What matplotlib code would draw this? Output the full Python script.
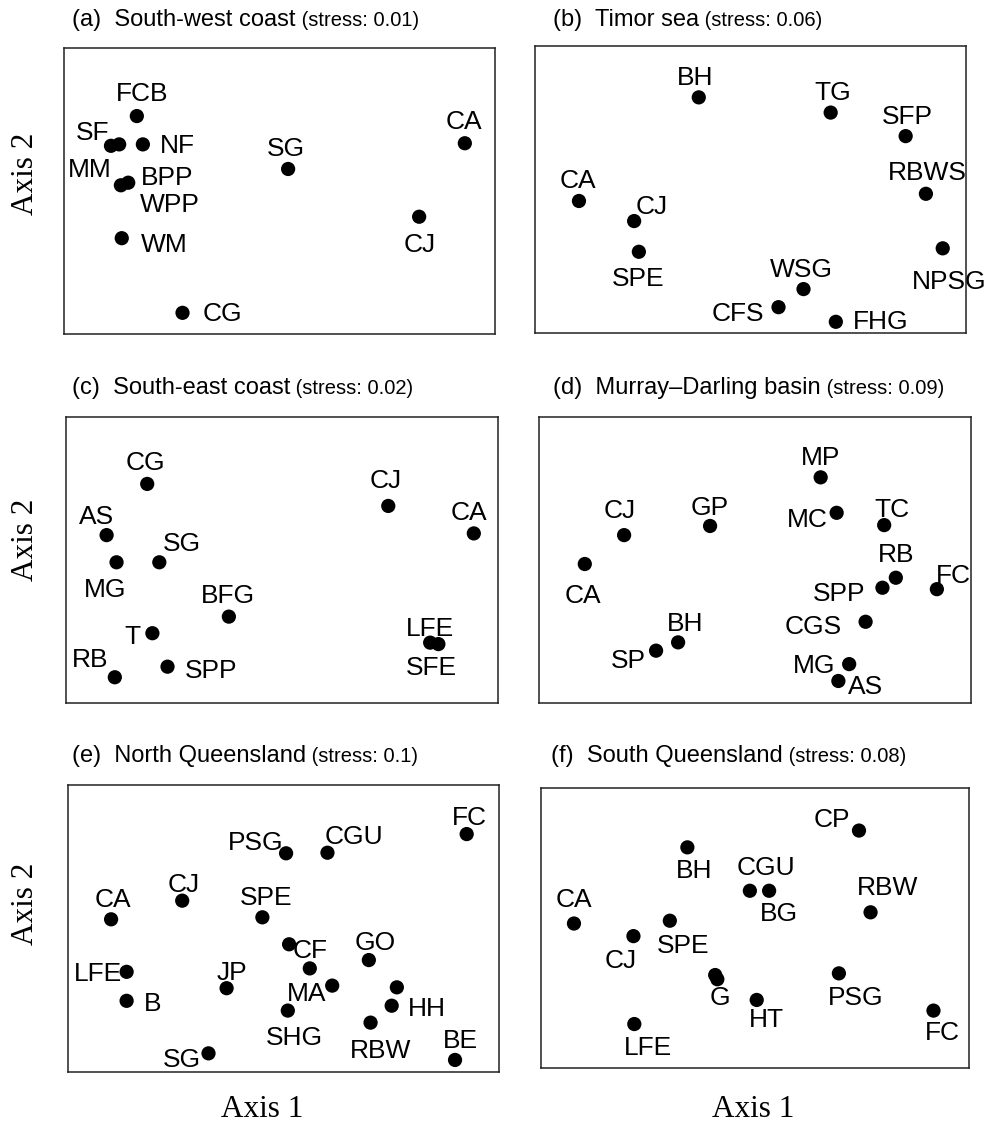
import matplotlib
matplotlib.use("Agg")
import matplotlib.pyplot as plt

W, H, DPI = 988, 1122, 100
SANS = "Liberation Sans"
SERIF = "Liberation Serif"

# (a) South-west coast
a_names = ["FCB", "SF", "MM", "NF", "SG", "CA", "BPP", "WPP", "WM", "CJ", "CG"]
a_x = [16.9, 10.9, 12.8, 18.3, 52.0, 93.0, 14.9, 13.2, 13.4, 82.4, 27.5]
a_y = [76.2, 65.8, 66.3, 66.3, 57.7, 66.7, 52.9, 52.0, 33.5, 41.0, 7.4]

# (b) Timor sea
b_names = ["BH", "TG", "SFP", "RBWS", "CA", "CJ", "SPE", "NPSG", "WSG", "CFS", "FHG"]
b_x = [38.0, 68.6, 86.0, 90.7, 10.2, 23.0, 24.1, 94.6, 62.3, 56.5, 69.8]
b_y = [82.1, 76.8, 68.6, 48.5, 46.0, 39.0, 28.3, 29.5, 15.3, 9.0, 3.9]

# (c) South-east coast
c_names = ["CG", "CJ", "CA", "AS", "MG", "SG", "BFG", "T", "RB", "SPP", "LFE", "SFE"]
c_x = [18.8, 74.6, 94.4, 9.4, 11.7, 21.6, 37.7, 20.0, 11.3, 23.5, 84.3, 86.2]
c_y = [76.6, 68.9, 59.3, 58.7, 49.2, 49.2, 30.2, 24.4, 9.0, 12.7, 21.1, 20.6]

# (d) Murray-Darling basin
d_names = ["MP", "MC", "TC", "CJ", "GP", "CA", "RB", "SPP", "FC", "CGS", "BH", "SP", "MG", "AS"]
d_x = [65.2, 68.9, 79.9, 19.7, 39.6, 10.6, 82.6, 79.5, 92.1, 75.6, 32.2, 27.1, 71.8, 69.3]
d_y = [78.9, 66.5, 62.2, 58.7, 61.9, 48.6, 43.8, 40.3, 39.8, 28.4, 21.2, 18.3, 13.6, 7.7]

# (e) North Queensland ("" = point drawn without a label)
e_names = ["FC", "PSG", "CGU", "CJ", "CA", "SPE", "CF", "", "MA", "GO", "", "HH",
           "RBW", "BE", "LFE", "B", "JP", "SHG", "SG"]
e_x = [92.5, 50.6, 60.2, 26.5, 10.0, 45.1, 51.3, 56.1, 61.3, 69.8, 76.3, 75.1,
       70.2, 89.8, 13.6, 13.6, 36.8, 51.0, 32.6]
e_y = [82.9, 76.2, 76.4, 59.7, 53.2, 53.9, 44.5, 36.1, 30.1, 39.0, 29.5, 23.1,
       17.2, 4.2, 34.9, 24.8, 29.2, 21.4, 6.5]

# (f) South Queensland
f_names = ["CP", "BH", "CGU", "BG", "RBW", "CA", "SPE", "CJ", "", "G", "HT", "PSG", "FC", "LFE"]
f_x = [74.3, 34.2, 48.8, 53.3, 77.0, 7.7, 30.1, 21.6, 40.7, 41.2, 50.4, 69.6, 91.7, 21.8]
f_y = [84.8, 78.8, 63.3, 63.3, 55.6, 51.6, 52.6, 47.1, 33.2, 31.7, 24.3, 33.8, 20.5, 15.7]

# label offsets from the point, pixels (right, down), measured to label centre
a_off = {"FCB": (5, -25), "SF": (-18, -15), "MM": (-29, 23), "NF": (35, -1), "SG": (-2, -22),
         "CA": (-1, -24), "BPP": (39, -7), "WPP": (49, 17), "WM": (43, 4), "CJ": (1, 26),
         "CG": (40, -1)}
b_off = {"BH": (-4, -22), "TG": (2, -22), "SFP": (2, -22), "RBWS": (1, -23), "CA": (-1, -22),
         "CJ": (18, -17), "SPE": (-1, 25), "NPSG": (6, 31), "WSG": (-2, -22), "CFS": (-41, 4),
         "FHG": (45, -2)}
c_off = {"CG": (-2, -23), "CJ": (-3, -27), "CA": (-5, -23), "AS": (-10, -21), "MG": (-11, 25),
         "SG": (23, -21), "BFG": (-1, -23), "T": (-20, 1), "RB": (-25, -20), "SPP": (44, 2),
         "LFE": (0, -16), "SFE": (-7, 21)}
d_off = {"MP": (0, -22), "MC": (-29, 5), "TC": (8, -18), "CJ": (-4, -27), "GP": (0, -20),
         "CA": (-2, 30), "RB": (0, -25), "SPP": (-43, 4), "FC": (17, -16), "CGS": (-52, 3),
         "BH": (7, -21), "SP": (-28, 8), "MG": (-35, -1), "AS": (27, 4)}
e_off = {"FC": (3, -19), "PSG": (-30, -13), "CGU": (26, -18), "CJ": (1, -18), "CA": (2, -22),
         "SPE": (4, -22), "CF": (21, 4), "MA": (-26, 6), "GO": (6, -20), "HH": (35, 1),
         "RBW": (10, 26), "BE": (5, -21), "LFE": (-29, 0), "B": (26, 1), "JP": (5, -18),
         "SHG": (7, 25), "SG": (-27, 4)}
f_off = {"CP": (-27, -13), "BH": (7, 21), "CGU": (16, -25), "BG": (10, 21), "RBW": (17, -27),
         "CA": (0, -26), "SPE": (13, 23), "CJ": (-13, 22), "G": (3, 16), "HT": (10, 18),
         "PSG": (17, 22), "FC": (9, 20), "LFE": (14, 22)}

# panel boxes in pixels: left, top, right, bottom ; title x and baseline
panels = [
    ("a", "South-west coast", "0.01", a_names, a_x, a_y, a_off, (64, 48, 495, 334), (72, 26)),
    ("b", "Timor sea", "0.06", b_names, b_x, b_y, b_off, (535, 46, 966, 333), (553, 26)),
    ("c", "South-east coast", "0.02", c_names, c_x, c_y, c_off, (66, 417, 498, 703), (72, 394)),
    ("d", "Murray\u2013Darling basin", "0.09", d_names, d_x, d_y, d_off, (539, 417, 971, 703), (553, 394)),
    ("e", "North Queensland", "0.1", e_names, e_x, e_y, e_off, (68, 785, 499, 1072), (72, 762)),
    ("f", "South Queensland", "0.08", f_names, f_x, f_y, f_off, (541, 788, 969, 1068), (551, 762)),
]

fig = plt.figure(figsize=(W / DPI, H / DPI), dpi=DPI)

lab_fs = 19
cap_half = 0.716 * lab_fs * DPI / 72 / 2

for letter, title, stress, names, xs, ys, offs, box, tpos in panels:
    l, t, r, b = box
    ax = fig.add_axes([l / W, 1 - b / H, (r - l) / W, (b - t) / H])
    ax.scatter(xs, ys, s=105, c="black", edgecolors="none", zorder=3, clip_on=False)
    for name, x, y in zip(names, xs, ys):
        if not name:
            continue
        dx, dy = offs[name]
        ax.annotate(name, (x, y), xytext=(dx, -dy - cap_half), textcoords="offset pixels",
                    ha="center", va="baseline", fontsize=lab_fs, family=SANS,
                    annotation_clip=False)
    ax.set_xlim(0, 100)
    ax.set_ylim(0, 100)
    ax.set_xticks([])
    ax.set_yticks([])
    for sp in ax.spines.values():
        sp.set_linewidth(1.1)
        sp.set_color("#222222")

    tx, tb = tpos
    ttl = fig.text(tx / W, 1 - tb / H, f"({letter})  {title}", fontsize=17, family=SANS,
                   ha="left", va="baseline")
    ax.annotate(f" (stress: {stress})", xy=(1, 1 - tb / H), xycoords=(ttl, "figure fraction"),
                ha="left", va="baseline", fontsize=14.5, family=SANS, annotation_clip=False)

# axis titles
for yc in [173.5, 540, 904]:
    fig.text(33 / W, 1 - yc / H, "Axis 2", rotation=90, rotation_mode="anchor",
             ha="center", va="baseline", fontsize=22.5, family=SERIF)
for xc in [262, 753]:
    fig.text(xc / W, 1 - 1117 / H, "Axis 1", ha="center", va="baseline",
             fontsize=22.5, family=SERIF)

fig.savefig("out.png", dpi=DPI)
